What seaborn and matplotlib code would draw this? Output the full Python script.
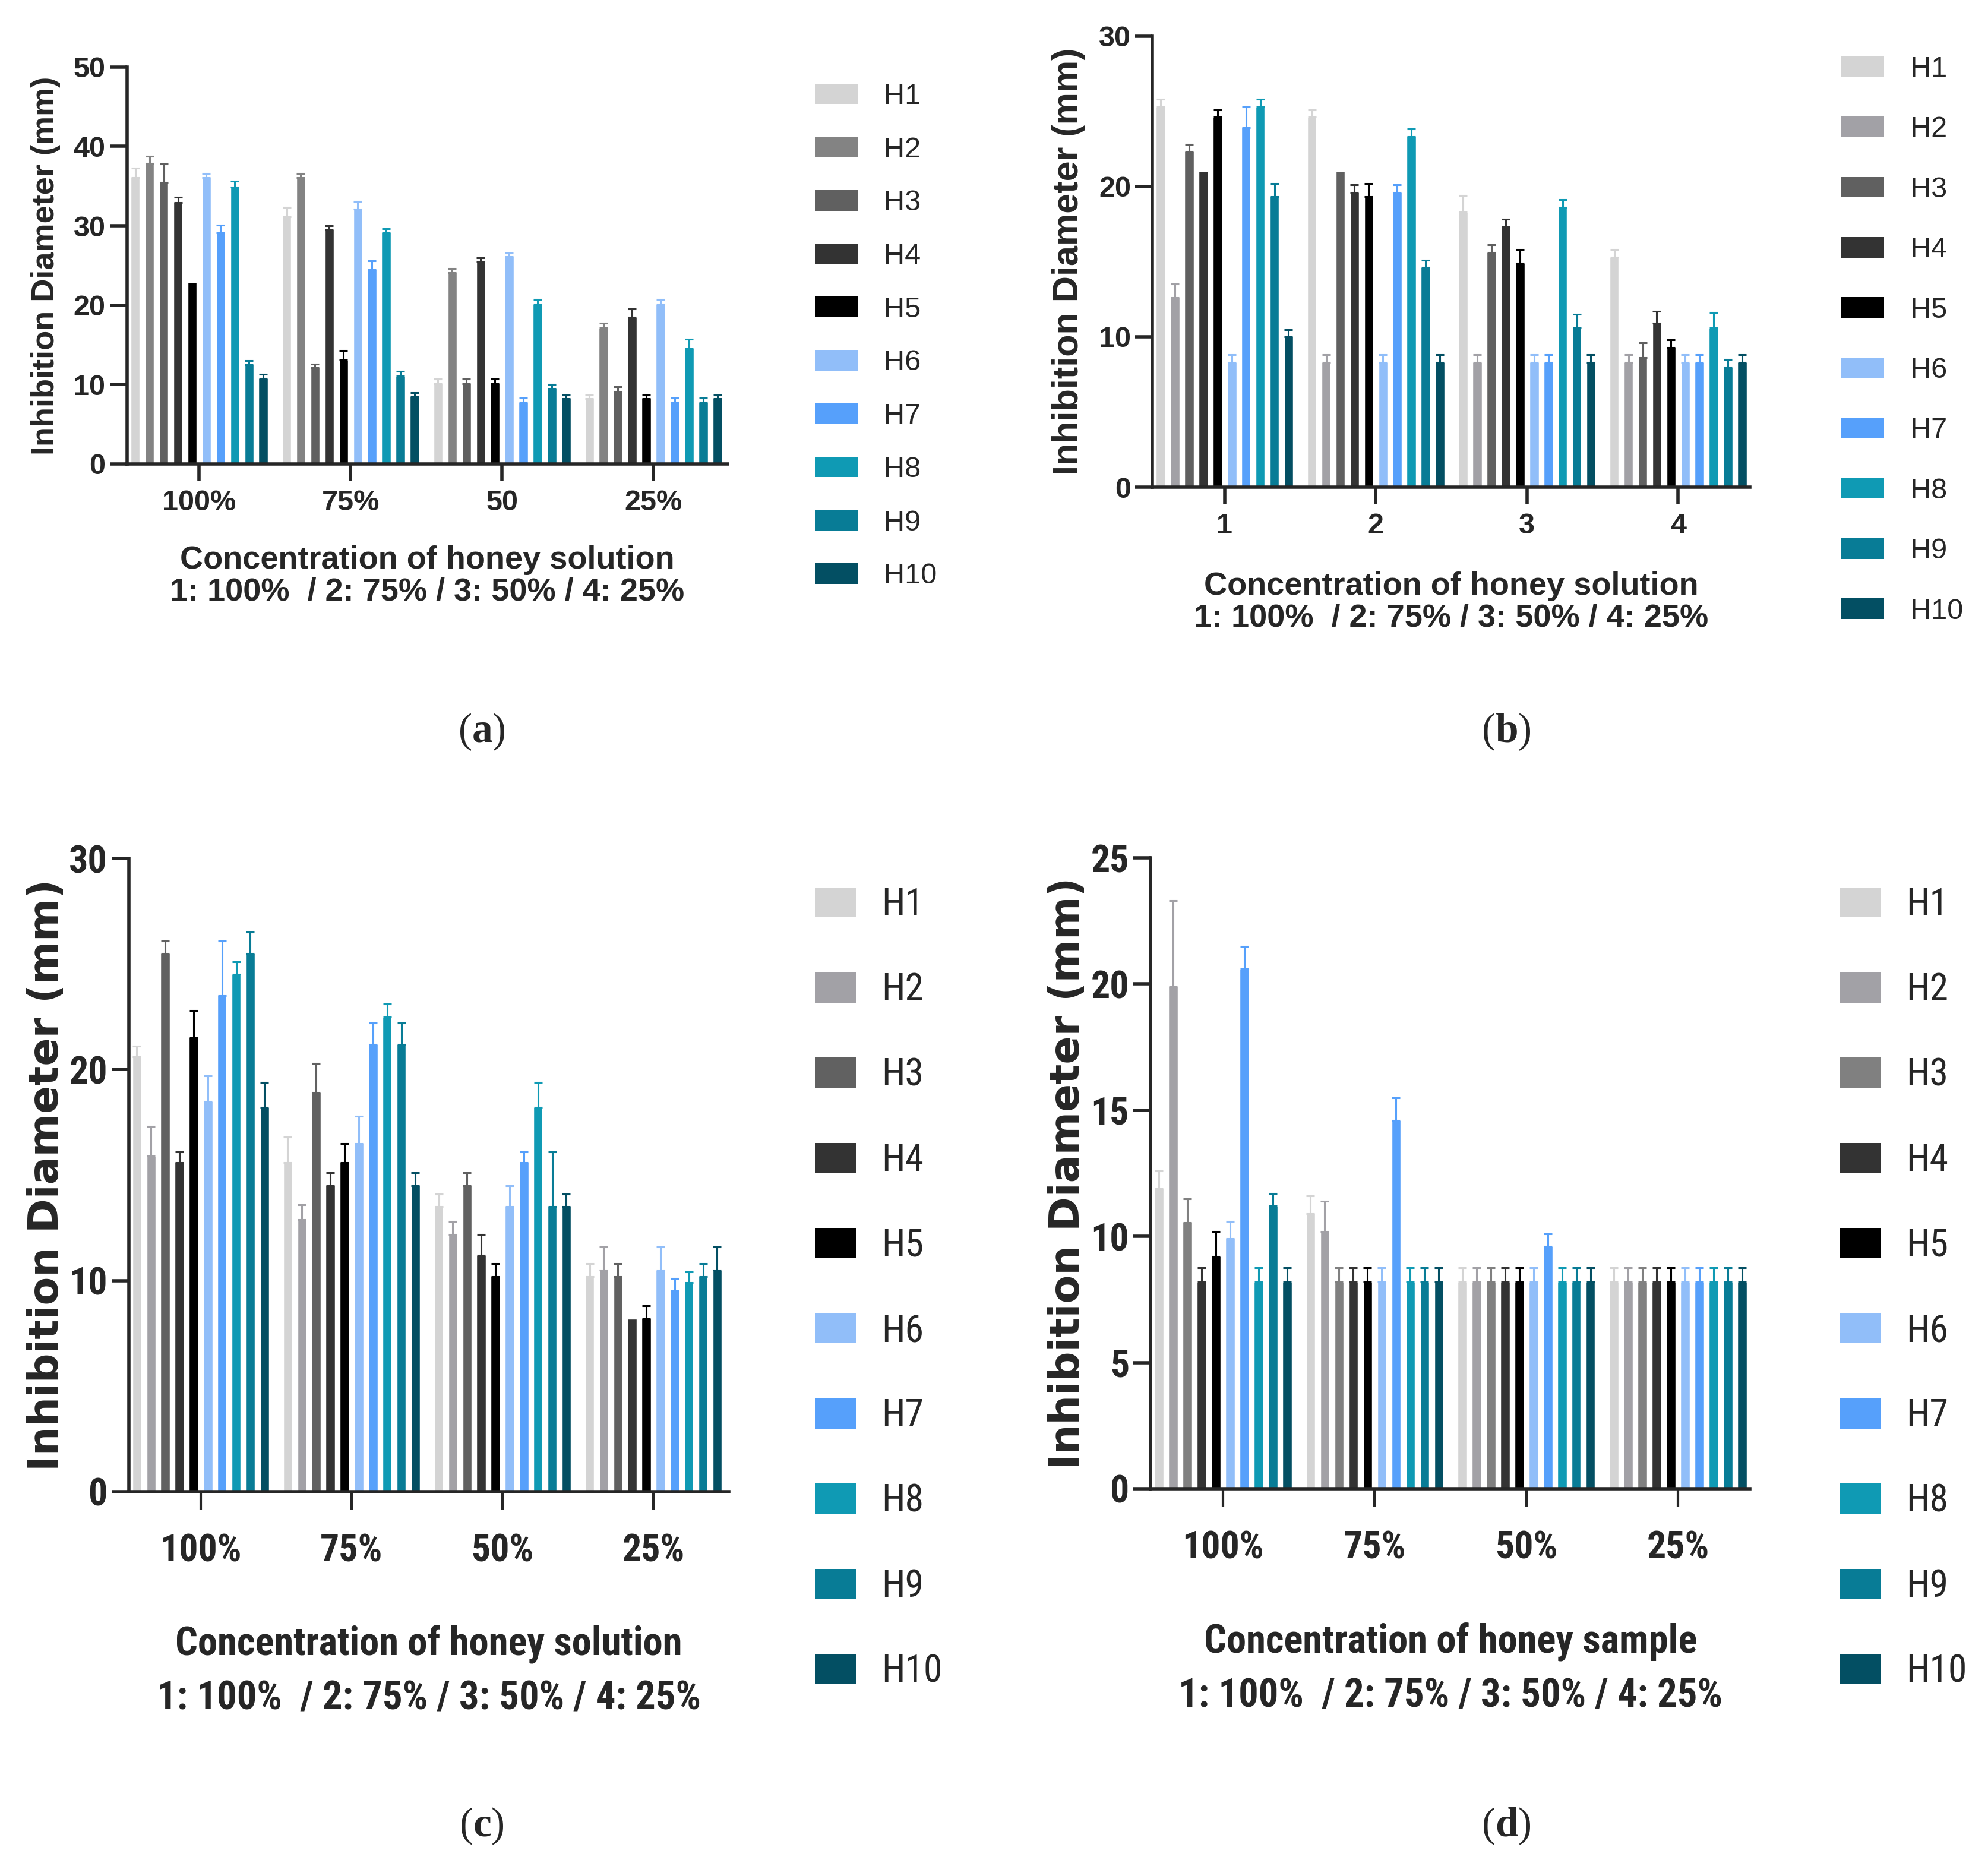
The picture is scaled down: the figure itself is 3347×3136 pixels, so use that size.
import matplotlib
matplotlib.use('Agg')
import matplotlib.pyplot as plt
import matplotlib.patches as mpatches
from matplotlib import font_manager as fm
from matplotlib.textpath import TextPath
import seaborn as sns
import pandas as pd

honeys = ['H1', 'H2', 'H3', 'H4', 'H5', 'H6', 'H7', 'H8', 'H9', 'H10']

conc_a = ['100%', '75%', '50', '25%']
conc_b = ['1', '2', '3', '4']
conc_c = ['100%', '75%', '50%', '25%']
conc_d = ['100%', '75%', '50%', '25%']

# mean inhibition diameter (mm), one list per honey, one value per concentration
mean_a = {
    'H1': [36.1, 31.1, 10.1, 8.2], 'H2': [37.9, 36.1, 24.1, 17.1],
    'H3': [35.5, 12.1, 10.1, 9.1], 'H4': [32.9, 29.5, 25.5, 18.5],
    'H5': [22.9, 13.1, 10.1, 8.2], 'H6': [36.1, 32.1, 26.1, 20.1],
    'H7': [29.1, 24.5, 7.8, 7.8], 'H8': [34.9, 29.1, 20.1, 14.5],
    'H9': [12.5, 11.1, 9.5, 7.8], 'H10': [10.8, 8.5, 8.2, 8.2],
}
err_a = {
    'H1': [1.2, 1.2, 0.6, 0.5], 'H2': [0.9, 0.5, 0.5, 0.6],
    'H3': [2.3, 0.5, 0.6, 0.6], 'H4': [0.7, 0.5, 0.5, 1.0],
    'H5': [0.0, 1.2, 0.6, 0.5], 'H6': [0.5, 1.0, 0.5, 0.6],
    'H7': [1.0, 1.1, 0.5, 0.5], 'H8': [0.7, 0.5, 0.6, 1.2],
    'H9': [0.5, 0.6, 0.5, 0.5], 'H10': [0.5, 0.5, 0.5, 0.5],
}

mean_b = {
    'H1': [25.3, 24.6, 18.3, 15.3], 'H2': [12.6, 8.3, 8.3, 8.3],
    'H3': [22.3, 21.0, 15.6, 8.6], 'H4': [21.0, 19.6, 17.3, 10.9],
    'H5': [24.6, 19.3, 14.9, 9.3], 'H6': [8.3, 8.3, 8.3, 8.3],
    'H7': [23.9, 19.6, 8.3, 8.3], 'H8': [25.3, 23.3, 18.6, 10.6],
    'H9': [19.3, 14.6, 10.6, 8.0], 'H10': [10.0, 8.3, 8.3, 8.3],
}
err_b = {
    'H1': [0.5, 0.5, 1.1, 0.5], 'H2': [0.9, 0.5, 0.5, 0.5],
    'H3': [0.5, 0.0, 0.5, 1.0], 'H4': [0.0, 0.5, 0.5, 0.8],
    'H5': [0.5, 0.9, 0.9, 0.5], 'H6': [0.5, 0.5, 0.5, 0.5],
    'H7': [1.4, 0.5, 0.5, 0.5], 'H8': [0.5, 0.5, 0.5, 1.0],
    'H9': [0.9, 0.5, 0.9, 0.5], 'H10': [0.45, 0.5, 0.5, 0.5],
}

mean_c = {
    'H1': [20.6, 15.6, 13.5, 10.2], 'H2': [15.9, 12.9, 12.2, 10.5],
    'H3': [25.5, 18.9, 14.5, 10.2], 'H4': [15.6, 14.5, 11.2, 8.2],
    'H5': [21.5, 15.6, 10.2, 8.2], 'H6': [18.5, 16.5, 13.5, 10.5],
    'H7': [23.5, 21.2, 15.6, 9.5], 'H8': [24.5, 22.5, 18.2, 9.9],
    'H9': [25.5, 21.2, 13.5, 10.2], 'H10': [18.2, 14.5, 13.5, 10.5],
}
err_c = {
    'H1': [0.5, 1.2, 0.6, 0.6], 'H2': [1.4, 0.7, 0.6, 1.1],
    'H3': [0.6, 1.4, 0.6, 0.6], 'H4': [0.5, 0.6, 1.0, 0.0],
    'H5': [1.3, 0.9, 0.6, 0.6], 'H6': [1.2, 1.3, 1.0, 1.1],
    'H7': [2.6, 1.0, 0.5, 0.6], 'H8': [0.6, 0.6, 1.2, 0.5],
    'H9': [1.0, 1.0, 2.6, 0.6], 'H10': [1.2, 0.6, 0.6, 1.1],
}

mean_d = {
    'H1': [11.9, 10.9, 8.2, 8.2], 'H2': [19.9, 10.2, 8.2, 8.2],
    'H3': [10.55, 8.2, 8.2, 8.2], 'H4': [8.2, 8.2, 8.2, 8.2],
    'H5': [9.2, 8.2, 8.2, 8.2], 'H6': [9.9, 8.2, 8.2, 8.2],
    'H7': [20.6, 14.6, 9.6, 8.2], 'H8': [8.2, 8.2, 8.2, 8.2],
    'H9': [11.2, 8.2, 8.2, 8.2], 'H10': [8.2, 8.2, 8.2, 8.2],
}
err_d = {
    'H1': [0.7, 0.7, 0.55, 0.55], 'H2': [3.4, 1.2, 0.55, 0.55],
    'H3': [0.95, 0.55, 0.55, 0.55], 'H4': [0.55, 0.55, 0.55, 0.55],
    'H5': [1.0, 0.55, 0.55, 0.55], 'H6': [0.7, 0.55, 0.55, 0.55],
    'H7': [0.9, 0.9, 0.5, 0.55], 'H8': [0.55, 0.55, 0.55, 0.55],
    'H9': [0.5, 0.55, 0.55, 0.55], 'H10': [0.55, 0.55, 0.55, 0.55],
}

blues = ['#91bef9', '#56a0fb', '#0f9ab4', '#087c96', '#034f63']
colors_a = ['#d4d4d4', '#838383', '#606060', '#333333', '#000000'] + blues
colors_b = ['#d4d4d4', '#a2a1a6', '#606060', '#333333', '#000000'] + blues
colors_c = ['#d4d4d4', '#a2a1a6', '#616161', '#333333', '#000000'] + blues
colors_d = ['#d4d4d4', '#a2a1a6', '#808080', '#333333', '#000000'] + blues

sns.set_style('ticks')
plt.rcParams['font.family'] = ['Liberation Sans', 'DejaVu Sans']
plt.rcParams['mathtext.fontset'] = 'custom'
plt.rcParams['mathtext.bf'] = 'Liberation Serif:bold'

W, H = 3348, 3136
fig = plt.figure(figsize=(W / 100, H / 100), dpi=100)


# the lower panels use a compressed sans; take the narrowest one installed
def narrow_font(bold):
    want = 700 if bold else 400
    prefs = ['liberation sans narrow', 'arial narrow', 'roboto condensed',
             'open sans condensed', 'noto sans', 'dejavu sans']
    best, best_score = None, None
    for f in fm.fontManager.ttflist:
        name = f.name.lower()
        st = f.stretch
        cond = ('narrow' in name or 'condensed' in name or
                (isinstance(st, str) and 'condensed' in st) or
                (isinstance(st, int) and st < 500))
        if not cond or f.style != 'normal':
            continue
        w = f.weight if isinstance(f.weight, int) else fm.weight_dict.get(f.weight, 400)
        rank = len(prefs)
        for i, p in enumerate(prefs):
            if name.startswith(p):
                rank = i
                break
        score = rank * 1000 + abs(w - want)
        if best_score is None or score < best_score:
            best, best_score = f, score
    if best is None:
        return fm.FontProperties(family='Liberation Sans',
                                 weight='bold' if bold else 'normal')
    return fm.FontProperties(fname=best.fname)


NB = narrow_font(True)
NR = narrow_font(False)


def size_for(text, prop, width_px):
    w = TextPath((0, 0), text, size=10, prop=prop).get_extents().width
    return 10 * width_px * 0.72 / w


def with_size(prop, size):
    p = prop.copy()
    p.set_size(size)
    return p


n_tick = size_for('100%', NB, 130)
n_xlab = size_for('Concentration of honey solution', NB, 848)
n_leg = size_for('H10', NR, 94)


def panel(rect, conc, means, errs, colors, ymax, ystep, xlab, ylab_x, xlab_y,
          xlim, leg_xy, ylab_size, style):
    ax = fig.add_axes(rect)
    rows = []
    for h in honeys:
        for c, v in zip(conc, means[h]):
            rows.append({'conc': c, 'honey': h, 'value': v})
    df = pd.DataFrame(rows)
    pal = dict(zip(honeys, colors))
    sns.barplot(data=df, x='conc', y='value', hue='honey', order=conc,
                hue_order=honeys, palette=pal, saturation=1, width=0.94,
                gap=0.35, errorbar=None, legend=False, ax=ax)

    for cont, h in zip(ax.containers, honeys):
        for bar in cont:
            cx = bar.get_x() + bar.get_width() / 2
            gi = int(round(cx))
            e = errs[h][gi]
            if e <= 0:
                continue
            ax.errorbar(cx, bar.get_height(), yerr=[[0], [e]], fmt='none',
                        ecolor=pal[h], elinewidth=2.2, capsize=5, capthick=2.2)

    ax.set_xlim(*xlim)
    ax.set_ylim(0, ymax)
    ax.set_yticks(range(0, ymax + 1, ystep))
    sns.despine(ax=ax)
    for s in ['left', 'bottom']:
        ax.spines[s].set_linewidth(4)
    ax.tick_params(axis='y', length=21, width=4, pad=5)

    if style == 'normal':
        tick_prop = fm.FontProperties(family='Liberation Sans', weight='bold', size=35)
        xl_prop = fm.FontProperties(family='Liberation Sans', weight='bold', size=39)
        yl_prop = fm.FontProperties(family='Liberation Sans', weight='bold',
                                    size=ylab_size)
        leg_prop = fm.FontProperties(family='Liberation Sans', size=35)
        ax.tick_params(axis='x', length=21, width=4, pad=10)
        fs = 35 / 0.72
        hl, hh, htp = 72 / fs, 35 / fs, 44 / fs
        ls = 0.92 if leg_xy[2] == 'a' else 1.16
        lsp = 1.1
    else:
        tick_prop = with_size(NB, n_tick)
        xl_prop = with_size(NB, n_xlab)
        yl_prop = fm.FontProperties(family='DejaVu Sans', weight='bold',
                                    size=ylab_size)
        leg_prop = with_size(NR, n_leg)
        ax.tick_params(axis='x', length=22, width=3, pad=28)
        fs = n_leg / 0.72
        hl, hh, htp = 70 / fs, 54 / fs, 42 / fs
        ls = (156 - 1.17 * fs) / fs
        lsp = 1.55

    for t in ax.get_xticklabels() + ax.get_yticklabels():
        t.set_fontproperties(tick_prop)

    ax.set_xlabel(xlab, fontproperties=xl_prop, linespacing=lsp)
    ax.xaxis.set_label_coords(0.5, xlab_y)
    ax.xaxis.label.set_va('top')
    ax.set_ylabel('Inhibition Diameter (mm)', fontproperties=yl_prop)
    ax.yaxis.set_label_coords(ylab_x, 0.5)
    ax.yaxis.label.set_va('center')

    handles = [mpatches.Patch(facecolor=pal[h], edgecolor='none', label=h)
               for h in honeys]
    ax.legend(handles=handles, loc='upper left',
              bbox_to_anchor=(leg_xy[0], leg_xy[1]),
              bbox_transform=fig.transFigure, frameon=False,
              borderaxespad=0, borderpad=0, handlelength=hl,
              handleheight=hh, handletextpad=htp, labelspacing=ls,
              prop=leg_prop)
    return ax


line2 = '1: 100%  / 2: 75% / 3: 50% / 4: 25%'

panel([0.0638, 0.751, 0.3021, 0.213], conc_a, mean_a, err_a, colors_a, 50, 10,
      'Concentration of honey solution\n' + line2, -0.135, -0.205,
      (-0.478, 3.49), (0.4098, 0.9554, 'a'), 39, 'normal')
panel([0.5795, 0.7385, 0.3005, 0.2422], conc_b, mean_b, err_b, colors_b, 30, 10,
      'Concentration of honey solution\n' + line2, -0.140, -0.187,
      (-0.478, 3.475), (0.926, 0.970, 'b'), 44, 'normal')
panel([0.0648, 0.1993, 0.3017, 0.3399], conc_c, mean_c, err_c, colors_c, 30, 10,
      'Concentration of honey solution\n' + line2, -0.137, -0.210,
      (-0.476, 3.5), (0.4098, 0.5242, 'c'), 50, 'narrow')
panel([0.5786, 0.2009, 0.3014, 0.3386], conc_d, mean_d, err_d, colors_d, 25, 5,
      'Concentration of honey sample\n' + line2, -0.138, -0.211,
      (-0.478, 3.475), (0.925, 0.5242, 'd'), 50, 'narrow')

for letter, x, y in [('a', 811, 1232), ('b', 2536, 1232),
                     ('c', 811, 3074), ('d', 2536, 3074)]:
    fig.text(x / W, 1 - y / H, r'($\mathbf{' + letter + r'}$)',
             family=['Liberation Serif'], size=50, ha='center', va='center')

fig.savefig('out.png', dpi=100)
